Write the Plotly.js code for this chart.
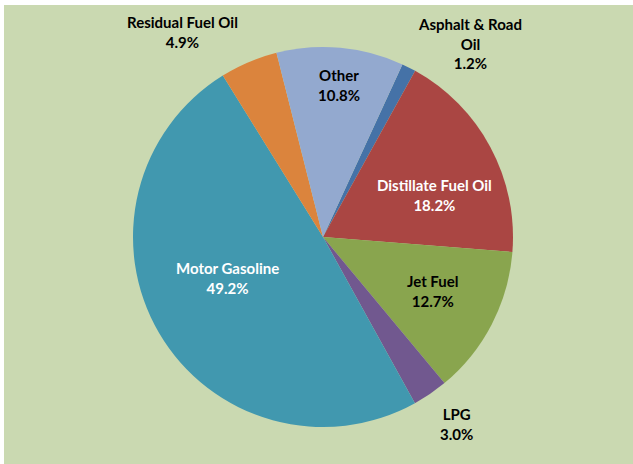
<!DOCTYPE html>
<html>
<head>
<meta charset="utf-8">
<script src="https://cdn.plot.ly/plotly-3.0.1.min.js"></script>
<style>
html,body{margin:0;padding:0;background:#ffffff;width:633px;height:464px;overflow:hidden;}
#chart{position:absolute;left:4px;top:5px;width:629px;height:459px;}
</style>
</head>
<body>
<div id="chart"></div>
<script>
// Data
const categories = ["Asphalt & Road Oil", "Distillate Fuel Oil", "Jet Fuel", "LPG", "Motor Gasoline", "Residual Fuel Oil", "Other"];
const labelLines = ["Asphalt & Road<br>Oil", "Distillate Fuel Oil", "Jet Fuel", "LPG", "Motor Gasoline", "Residual Fuel Oil", "Other"];
const shares = [1.2, 18.2, 12.7, 3.0, 49.2, 4.9, 10.8];

// Styles
const colors = ["#4572A7", "#AA4643", "#89A54E", "#71588F", "#4198AF", "#DB843D", "#93A9CF"];
const textColors = ["#000000", "#ffffff", "#000000", "#000000", "#ffffff", "#000000", "#000000"];
// Label anchor positions in page pixels (layout only)
const labelPos = [[470, 43], [434, 195], [433, 291], [456, 424], [227, 278], [182, 32], [339, 85]];

const W = 629, H = 459, OX = 4, OY = 5;
const px = (x, y) => ({ x: (x - OX) / W, y: 1 - (y - OY) / H });

const cx = 323 - OX, cy = 237 - OY, R = 190;

const trace = {
  type: "pie",
  labels: categories,
  values: shares,
  sort: false,
  direction: "clockwise",
  rotation: 24.7,
  marker: { colors: colors, line: { width: 0 } },
  textinfo: "none",
  hoverinfo: "label+percent",
  showlegend: false,
  domain: { x: [(cx - R) / W, (cx + R) / W], y: [1 - (cy + R) / H, 1 - (cy - R) / H] }
};

const annotations = categories.map((c, i) => {
  const p = px(labelPos[i][0], labelPos[i][1]);
  return {
    xref: "paper", yref: "paper", x: p.x, y: p.y,
    xanchor: "center", yanchor: "middle",
    text: labelLines[i] + "<br>" + shares[i].toFixed(1) + "%",
    showarrow: false, align: "center",
    font: { family: "Lato, 'Open Sans', sans-serif", size: 15, color: textColors[i], weight: 700 }
  };
});

const layout = {
  width: W, height: H,
  margin: { l: 0, r: 0, t: 0, b: 0 },
  paper_bgcolor: "#CAD9B1",
  plot_bgcolor: "#CAD9B1",
  annotations: annotations
};

Plotly.newPlot("chart", [trace], layout, { displayModeBar: false, staticPlot: true });
</script>
</body>
</html>
